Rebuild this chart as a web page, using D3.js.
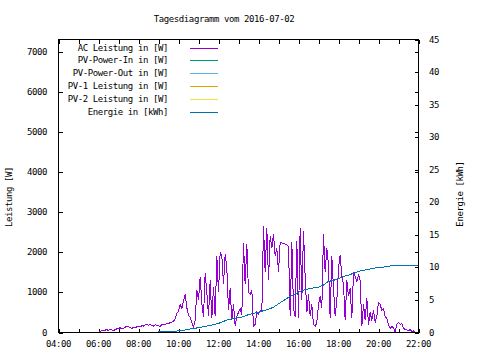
<!DOCTYPE html>
<html>
<head>
<meta charset="utf-8">
<script src="https://cdn.jsdelivr.net/npm/d3@7"></script>
<style>
  html, body { margin: 0; padding: 0; background: #fff; }
  text { font-family: "DejaVu Sans Mono", "Liberation Mono", monospace; font-size: 9px; letter-spacing: -0.4px; fill: #000; }
</style>
</head>
<body>
<svg id="chart" width="480" height="360"></svg>
<script>
// ---------- data ----------
const title = "Tagesdiagramm vom 2016-07-02";
const xTickLabels = ["04:00","06:00","08:00","10:00","12:00","14:00","16:00","18:00","20:00","22:00"];
const xMinorTicks = ["05:00","07:00","09:00","11:00","13:00","15:00","17:00","19:00","21:00"];
const leftTicks = [0,1000,2000,3000,4000,5000,6000,7000];
const rightTicks = [0,5,10,15,20,25,30,35,40,45];
const legendLabels = ["AC Leistung in [W]","PV-Power-In in [W]","PV-Power-Out in [W]","PV-1 Leistung in [W]","PV-2 Leistung in [W]","Energie in [kWh]"];
const legendColors = ["#9400d3","#009e73","#56b4e9","#e69f00","#f0e442","#0072b2"];
const yLabel = "Leistung [W]";
const y2Label = "Energie [kWh]";

// AC power [W], one value every 5 minutes starting 06:00
const acStart = "06:00";
const acPower = [
  10, 30, 50, 40, 60, 70, 50, 80, 60, 50, 70, 90,                       // 06
  100, 120, 90, 110, 130, 160, 140, 120, 100, 130, 110, 140,            // 07
  150, 140, 170, 160, 190, 210, 180, 200, 170, 160, 190, 180,           // 08
  170, 150, 190, 210, 200, 230, 220, 250, 260, 280, 350, 480,           // 09
  520, 700, 600, 780, 950, 620, 420, 380, 250, 130, 300, 1070,          // 10
  800, 1390, 720, 380, 1475, 1000, 400, 1300, 350, 1130, 400, 1900,     // 11
  1000, 2000, 1900, 1200, 1950, 1600, 550, 1100, 300, 700, 160, 400,    // 12
  500, 600, 450, 2240, 1200, 2200, 1000, 950, 1050, 160, 200, 500,      // 13
  450, 550, 520, 2660, 1500, 2600, 1300, 2400, 2100, 2450, 1900, 2100,  // 14
  1500, 2250, 2230, 2220, 2200, 2180, 2150, 400, 2250, 600, 380, 2290,  // 15
  350, 2600, 800, 2540, 1380, 500, 950, 400, 700, 200, 150, 250,        // 16
  700, 900, 600, 2460, 1500, 2100, 1700, 350, 1900, 1100, 400, 800,     // 17
  1600, 1930, 1400, 1200, 300, 1300, 900, 1100, 350, 1500, 1400, 1250,  // 18
  1450, 1300, 150, 700, 300, 850, 200, 500, 300, 550, 250, 400,         // 19
  750, 700, 550, 600, 400, 350, 200, 100, 150, 120, 0, 200,             // 20
  250, 200, 230, 100, 80, 60, 50, 70, 30, 40, 0                         // 21
];

// Energy [kWh], one value every 15 minutes starting 07:30
const energyStart = "07:30";
const energy = [
  0, 0, 0, 0, 0.02, 0.05,                 // 07:30 - 08:45
  0.08, 0.1, 0.13, 0.17,                  // 09
  0.25, 0.35, 0.5, 0.6,                   // 10
  0.75, 0.9, 1.05, 1.2,                   // 11
  1.4, 1.7, 2.0, 2.15,                    // 12
  2.3, 2.4, 2.75, 2.95,                   // 13
  3.1, 3.35, 3.55, 3.9,                   // 14
  4.4, 4.9, 5.4, 5.8,                     // 15
  6.2, 6.5, 6.7, 6.85,                    // 16
  6.95, 7.3, 7.85, 8.0,                   // 17
  8.3, 8.6, 8.8, 9.1,                     // 18
  9.4, 9.55, 9.7, 9.85,                   // 19
  10.0, 10.05, 10.2, 10.25,               // 20
  10.3, 10.3, 10.3, 10.3,                 // 21
  10.3                                    // 22:00
];

// ---------- helpers ----------
const toH = s => { const [h, m] = s.split(":").map(Number); return h + m / 60; };
const acSeries = acPower.map((v, i) => ({ t: toH(acStart) + i * 5 / 60, v }));
const enSeries = energy.map((v, i) => ({ t: toH(energyStart) + i * 15 / 60, v }));

// ---------- layout ----------
const svg = d3.select("#chart");
const L = 58.5, R = 418.5, T = 39.5, B = 332.5, TK = 4;

const x = d3.scaleLinear().domain([4, 22]).range([L, R]);
const y = d3.scaleLinear().domain([0, 7300]).range([B, T]);
const y2 = d3.scaleLinear().domain([0, 45]).range([B, T]);

// title
svg.append("text").attr("x", 224).attr("y", 22).attr("text-anchor", "middle").text(title);

// ticks (inward)
const tickG = svg.append("g").attr("stroke", "#000").attr("stroke-width", 1).attr("shape-rendering", "crispEdges");
const allX = xTickLabels.concat(xMinorTicks).map(toH);
allX.forEach(h => {
  const px = Math.round(x(h)) + 0.5;
  tickG.append("line").attr("x1", px).attr("x2", px).attr("y1", B).attr("y2", B - TK);
  tickG.append("line").attr("x1", px).attr("x2", px).attr("y1", T).attr("y2", T + TK);
});
leftTicks.forEach(v => {
  const py = Math.round(y(v)) + 0.5;
  tickG.append("line").attr("x1", L).attr("x2", L + TK).attr("y1", py).attr("y2", py);
  tickG.append("line").attr("x1", R).attr("x2", R - TK).attr("y1", py).attr("y2", py);
});
rightTicks.forEach(v => {
  const py = Math.round(y2(v)) + 0.5;
  tickG.append("line").attr("x1", R).attr("x2", R - TK).attr("y1", py).attr("y2", py);
});

// tick labels
xTickLabels.forEach(s => {
  svg.append("text").attr("x", x(toH(s))).attr("y", 347).attr("text-anchor", "middle").text(s);
});
leftTicks.forEach(v => {
  svg.append("text").attr("x", 47).attr("y", y(v) + 3).attr("text-anchor", "end").text(v);
});
rightTicks.forEach(v => {
  svg.append("text").attr("x", 429).attr("y", y2(v) + 3).attr("text-anchor", "start").text(v);
});

// axis titles
svg.append("text").attr("transform", "translate(12,197) rotate(-90)").attr("text-anchor", "middle").text(yLabel);
svg.append("text").attr("transform", "translate(463,194) rotate(-90)").attr("text-anchor", "middle").text(y2Label);

// data lines
const acLine = d3.line().x(d => x(d.t)).y(d => y(d.v));
svg.append("path").datum(acSeries).attr("d", acLine)
  .attr("fill", "none").attr("stroke", legendColors[0]).attr("stroke-width", 1).attr("shape-rendering", "crispEdges");

const enLine = d3.line().x(d => x(d.t)).y(d => y2(d.v));
svg.append("path").datum(enSeries).attr("d", enLine)
  .attr("fill", "none").attr("stroke", legendColors[5]).attr("stroke-width", 1).attr("shape-rendering", "crispEdges");

// legend
legendLabels.forEach((lab, i) => {
  const cy = 47.5 + i * 12.9;
  svg.append("text").attr("x", 168).attr("y", cy + 3).attr("text-anchor", "end").text(lab);
  svg.append("line").attr("x1", 190).attr("x2", 218).attr("y1", Math.round(cy) + 0.5).attr("y2", Math.round(cy) + 0.5)
    .attr("stroke", legendColors[i]).attr("stroke-width", 1).attr("shape-rendering", "crispEdges");
});

// frame
svg.append("rect").attr("x", L).attr("y", T).attr("width", R - L).attr("height", B - T)
  .attr("fill", "none").attr("stroke", "#000").attr("stroke-width", 1).attr("shape-rendering", "crispEdges");
</script>
</body>
</html>
